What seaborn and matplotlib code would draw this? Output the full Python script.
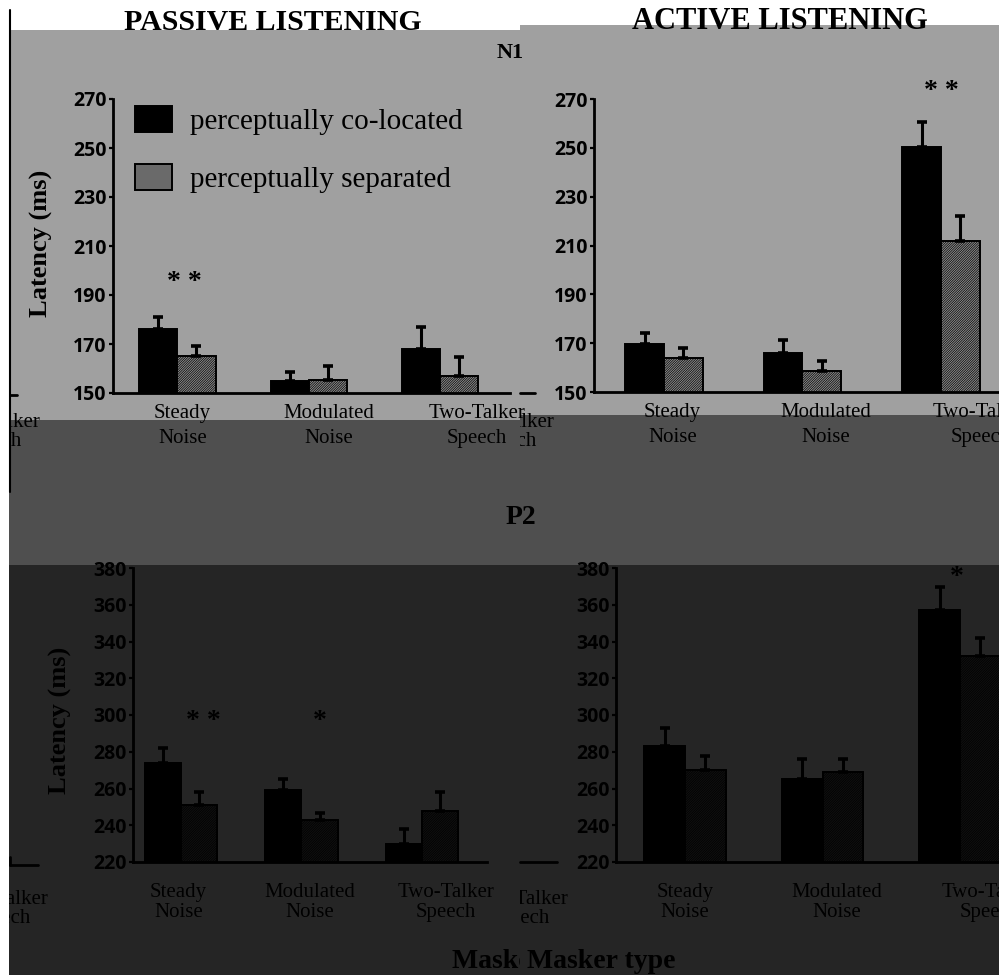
import numpy as np
import pandas as pd
import matplotlib
matplotlib.use("Agg")
import matplotlib.pyplot as plt
import seaborn as sns
from matplotlib.patches import Rectangle, Patch
from matplotlib.lines import Line2D
from matplotlib.transforms import Bbox, TransformedBbox

# ---------------- data ----------------
maskers = ["Steady\nNoise", "Modulated\nNoise", "Two-Talker\nSpeech"]
conditions = ["perceptually co-located", "perceptually separated"]

n1_passive_coloc = [176, 155, 168]
n1_passive_coloc_err = [5, 3.5, 9]
n1_passive_sep = [165, 155.5, 157]
n1_passive_sep_err = [4, 5.5, 7.5]

n1_active_coloc = [169.5, 166, 250.5]
n1_active_coloc_err = [4.5, 5.5, 10]
n1_active_sep = [164, 158.5, 212]
n1_active_sep_err = [4, 4, 10]

p2_passive_coloc = [274, 259, 230]
p2_passive_coloc_err = [8, 6, 8]
p2_passive_sep = [251, 243, 247.5]
p2_passive_sep_err = [7, 3.5, 10.5]

p2_active_coloc = [283, 265, 357]
p2_active_coloc_err = [10, 11, 12.5]
p2_active_sep = [270, 269, 332]
p2_active_sep_err = [7.5, 7, 10]

n1_ticks = [150, 170, 190, 210, 230, 250, 270]
p2_ticks = [220, 240, 260, 280, 300, 320, 340, 360, 380]

# ---------------- style ----------------
sns.set_style("ticks")
plt.rcParams["font.family"] = ["Liberation Serif", "DejaVu Serif"]
plt.rcParams.update({
    "text.color": "black", "axes.labelcolor": "black",
    "xtick.color": "black", "ytick.color": "black",
    "axes.edgecolor": "black", "hatch.linewidth": 0.5,
})
SERIF = "Liberation Serif"
SANS = "Open Sans"

W, H = 999, 975
fig = plt.figure(figsize=(W / 100, H / 100), dpi=100, facecolor="white")


def fx(px):
    return px / W


def fy(py):
    return 1 - py / H


def add_ax(x0, y0, x1, y1):
    return fig.add_axes([fx(x0), fy(y1), (x1 - x0) / W, (y1 - y0) / H])


C_COLOC = "#000000"


def panel(ax, coloc, sep, coloc_err, sep_err, width, xlim, ylim, yticks,
          xtickpos, xpad, lsp, c_sep):
    df = pd.DataFrame({
        "masker": maskers * 2,
        "condition": [conditions[0]] * 3 + [conditions[1]] * 3,
        "latency": coloc + sep,
    })
    sns.barplot(data=df, x="masker", y="latency", hue="condition",
                order=maskers, hue_order=conditions,
                palette=[C_COLOC, c_sep], saturation=1, width=width,
                edgecolor="black", linewidth=1.4, legend=False, ax=ax, zorder=2)
    conts = list(ax.containers)[:2]
    for cont, errs in zip(conts, [coloc_err, sep_err]):
        xs = [b.get_x() + b.get_width() / 2 for b in cont]
        ys = [b.get_height() for b in cont]
        ax.errorbar(xs, ys, yerr=[np.zeros(len(errs)), errs], fmt="none",
                    ecolor="black", elinewidth=2.2, capsize=3.6, capthick=2.6,
                    zorder=3)
    for b in conts[1]:
        b.set_hatch("/" * 14)
    ax.set_facecolor("none")
    for s in ["top", "right"]:
        ax.spines[s].set_visible(False)
    for s in ["left", "bottom"]:
        ax.spines[s].set_linewidth(2)
        ax.spines[s].set_color("black")
    ax.set_xlim(*xlim)
    ax.set_ylim(*ylim)
    ax.set_yticks(yticks)
    ax.set_xticks(xtickpos, maskers)
    ax.set_xlabel("")
    ax.set_ylabel("")
    ax.tick_params(axis="x", length=0, pad=xpad, labelsize=15,
                   labelcolor="black")
    ax.tick_params(axis="y", length=3, width=1.6, pad=1.5, labelsize=14,
                   color="black", labelcolor="black")
    for lab in ax.get_yticklabels():
        lab.set_fontfamily(SANS)
        lab.set_fontweight("bold")
    for lab in ax.get_xticklabels():
        lab.set_fontfamily(SERIF)
        lab.set_linespacing(lsp)


def stars(ax, x, y, s):
    ax.annotate(s, xy=(x, y), xytext=(0, -8), textcoords="offset points",
                ha="center", va="baseline", fontsize=20, fontweight="bold",
                family=SERIF, color="black", annotation_clip=False, zorder=4)


# ---------------- panels ----------------
ax1 = add_ax(113, 99, 510, 393)
panel(ax1, n1_passive_coloc, n1_passive_sep, n1_passive_coloc_err,
      n1_passive_sep_err, 0.58, (-0.49, 2.53), (150, 270), n1_ticks,
      [0.04, 1.15, 2.28], 8, 1.45, "#e2e2e2")
stars(ax1, 0.05, 197, "* *")

ax2 = add_ax(594, 99, 1012, 392)
panel(ax2, n1_active_coloc, n1_active_sep, n1_active_coloc_err,
      n1_active_sep_err, 0.56, (-0.505, 2.513), (150, 270), n1_ticks,
      [0.06, 1.17, 2.29], 8, 1.45, "#e2e2e2")
stars(ax2, 2.0, 275, "* *")

ax3 = add_ax(133, 568, 487, 862)
panel(ax3, p2_passive_coloc, p2_passive_sep, p2_passive_coloc_err,
      p2_passive_sep_err, 0.6, (-0.398, 2.54), (220, 380), p2_ticks,
      [-0.02, 1.07, 2.2], 15, 1.1, "#707070")
stars(ax3, 0.19, 299, "* *")
stars(ax3, 1.15, 299, "*")

ax4 = add_ax(616, 568, 1012, 862)
panel(ax4, p2_active_coloc, p2_active_sep, p2_active_coloc_err,
      p2_active_sep_err, 0.59, (-0.502, 2.378), (220, 380), p2_ticks,
      [0.0, 1.105, 2.22], 15, 1.1, "#707070")
stars(ax4, 1.98, 377.5, "*")

# legend
handles = [Patch(facecolor="black", edgecolor="black", linewidth=1.4),
           Patch(facecolor="#a9a9a9", edgecolor="black", linewidth=1.4)]
ax1.legend(handles, conditions, loc="upper left",
           bbox_to_anchor=(fx(135), fy(106)), bbox_transform=fig.transFigure,
           frameon=False, borderpad=0, borderaxespad=0, handlelength=1.27,
           handleheight=1.0, handletextpad=0.62, labelspacing=1.0,
           prop={"family": SERIF, "size": 21})

# ---------------- figure texts ----------------
def ftext(x, y, s, **kw):
    kw.setdefault("family", SERIF)
    kw.setdefault("zorder", 12)
    kw.setdefault("color", "black")
    return fig.text(fx(x), fy(y), s, **kw)


ftext(273, 30, "PASSIVE LISTENING", ha="center", va="baseline", fontsize=21.5,
      fontweight="bold")
ftext(780, 29, "ACTIVE LISTENING", ha="center", va="baseline", fontsize=22,
      fontweight="bold")
ftext(510, 53, "N1", ha="center", va="center", fontsize=16, fontweight="bold")
ftext(521, 518, "P2", ha="center", va="center", fontsize=20, fontweight="bold")
ftext(41, 243, "Latency (ms)", ha="center", va="center", rotation=90,
      fontsize=19, fontweight="bold")
ftext(60, 720, "Latency (ms)", ha="center", va="center", rotation=90,
      fontsize=19, fontweight="bold")

right_clip = TransformedBbox(Bbox.from_extents(fx(520), 0, 1, 1), fig.transFigure)
left_clip = TransformedBbox(Bbox.from_extents(0, 0, fx(520), 1), fig.transFigure)

t = ftext(452, 961, "Masker type", ha="left", va="center", fontsize=20,
          fontweight="bold")
t.set_clip_box(left_clip)
t.set_clip_on(True)
ftext(527, 961, "Masker type", ha="left", va="center", fontsize=20,
      fontweight="bold")

# fragments of neighbouring panels at the tile edges
ftext(40, 432, "Two-Talker\nSpeech", ha="right", va="center", fontsize=15,
      linespacing=1.0, multialignment="center")
ftext(49, 909, "Two-Talker\nSpeech", ha="right", va="center", fontsize=15,
      linespacing=1.05, multialignment="center")
for (xr, yc) in [(555, 432), (568, 909)]:
    t = ftext(xr, yc, "Two-Talker\nSpeech", ha="right", va="center",
              fontsize=15, linespacing=1.05, multialignment="center")
    t.set_clip_box(right_clip)
    t.set_clip_on(True)


def fline(xs, ys, lw=2, z=12):
    fig.add_artist(Line2D([fx(x) for x in xs], [fy(y) for y in ys],
                          transform=fig.transFigure, color="black",
                          linewidth=lw, zorder=z))


fline([9, 17], [395, 395])
fline([10, 38], [865, 865])
fline([10, 10], [857, 865])
fline([520, 535], [393, 393])
fline([520, 557], [862, 862])

# ---------------- darkening overlays (scan tiles) ----------------
def frect(x0, y0, x1, y1, color, alpha, z):
    fig.add_artist(Rectangle((fx(x0), fy(y1)), (x1 - x0) / W, (y1 - y0) / H,
                             transform=fig.transFigure, facecolor=color,
                             edgecolor="none", alpha=alpha, zorder=z))


# left tile
frect(9, 30, 520, 420, "black", 0.373, 10)
frect(9, 420, 520, 565, "black", 0.69, 10)
frect(9, 565, 520, 975, "black", 0.855, 10)
# right tile
frect(520, 25, 999, 415, "black", 0.373, 10)
frect(520, 415, 999, 565, "black", 0.69, 10)
frect(520, 565, 999, 975, "black", 0.855, 10)

# white margin and edge line
frect(0, 0, 9, 975, "white", 1.0, 20)
fline([10, 10], [10, 492], lw=1.5, z=21)

fig.savefig("out.png", dpi=100, facecolor="white")
